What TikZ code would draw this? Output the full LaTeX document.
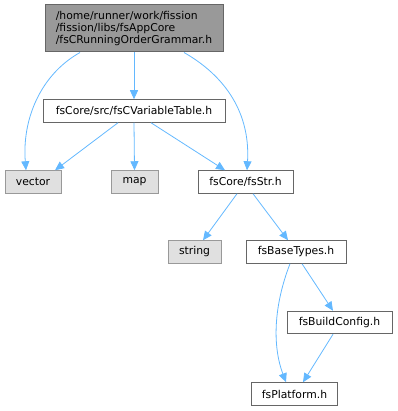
\documentclass[tikz,border=0pt]{standalone}
\usepackage{fontspec}
\setmainfont{DejaVu Sans}
\usetikzlibrary{arrows.meta}
\definecolor{edgeblue}{HTML}{63B8FF}
\definecolor{topfill}{HTML}{999999}
\definecolor{topline}{HTML}{666666}
\definecolor{sysfill}{HTML}{E0E0E0}
\definecolor{sysline}{HTML}{999999}

\begin{document}
\begin{tikzpicture}[x=1pt, y=-1pt, font=\fontsize{10.8}{12.2}\selectfont,
                file/.style={draw=topline, fill=white, line width=1pt, minimum height=22.5pt, inner sep=0pt},
                sys/.style={draw=sysline, fill=sysfill, line width=1pt, minimum height=22.5pt, inner sep=0pt},
                dep/.style={draw=edgeblue, line width=0.8pt, -{Triangle[length=9pt, width=8pt]}}]
                \useasboundingbox (0,0) rectangle (397,411);
                \node[file, fill=topfill, minimum width=178pt, minimum height=47pt, align=left] (top) at (134,28.5)
                    {/home/runner/work/fission\\/fission/libs/fsAppCore\\/fsCRunningOrderGrammar.h};
                \node[file, minimum width=182pt] (vtab) at (134,111) {fsCore/src/fsCVariableTable.h};
                \node[sys, minimum width=56pt] (vector) at (33,182) {vector};
                \node[sys, minimum width=47pt] (map) at (134.5,182) {map};
                \node[file, minimum width=95pt] (str) at (245.5,182) {fsCore/fsStr.h};
                \node[sys, minimum width=53pt] (string) at (194.5,252) {string};
                \node[file, minimum width=100pt] (base) at (296,252) {fsBaseTypes.h};
                \node[file, minimum width=105pt] (build) at (339.5,322.5) {fsBuildConfig.h};
                \node[file, minimum width=86pt] (plat) at (294.5,394) {fsPlatform.h};
                \draw[dep] ([xshift=-54pt]top.south) .. controls (40,75) and (22,120) .. ([xshift=-7pt]vector.north);
                \draw[dep] (top.south) -- (vtab.north);
                \draw[dep] ([xshift=50pt]top.south) .. controls (232,80) and (250,120) .. ([xshift=1.5pt]str.north);
                \draw[dep] ([xshift=-16pt]vtab.south) -- ([xshift=22pt]vector.north);
                \draw[dep] (vtab.south) -- (map.north);
                \draw[dep] ([xshift=17pt]vtab.south) -- ([xshift=-20.5pt]str.north);
                \draw[dep] ([xshift=-8.5pt]str.south) -- ([xshift=8.5pt]string.north);
                \draw[dep] ([xshift=7.5pt]str.south) -- ([xshift=-8pt]base.north);
                \draw[dep] ([xshift=-6pt]base.south) .. controls (274,305) and (272,345) .. ([xshift=-8.5pt]plat.north);
                \draw[dep] ([xshift=6pt]base.south) -- ([xshift=-6.5pt]build.north);
                \draw[dep] ([xshift=-6.5pt]build.south) -- ([xshift=8.5pt]plat.north);
            \end{tikzpicture}
\end{document}
